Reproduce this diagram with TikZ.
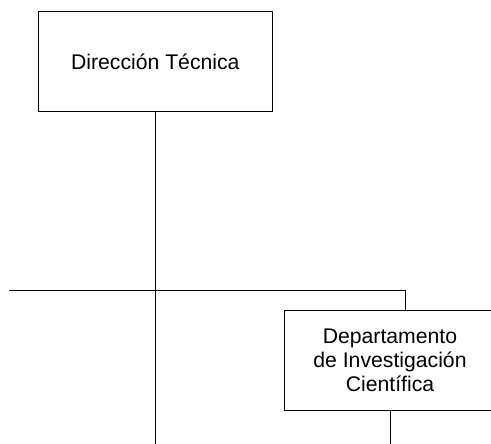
\documentclass[tikz,border=0pt]{standalone}
\usepackage{fontspec}
\setmainfont{Liberation Sans}
\usetikzlibrary{positioning}

\tikzset{caja/.style={draw, line width=1pt, align=center,
    font=\fontsize{21.2}{24}\selectfont}}

\begin{document}
\begin{tikzpicture}[x=1pt, y=-1pt, line width=1pt]
      \useasboundingbox (0,0) rectangle (491,444);
      \clip (0,0) rectangle (491,444);
      \node[caja, minimum width=234pt, minimum height=100pt] (dt) at (155.3,61.7) {Dirección Técnica};
      \node[caja, minimum width=211.4pt, minimum height=100pt] (dic) at (390,360) {Departamento\\de Investigación\\Científica};
      \coordinate (izq) at (9,290.7);
      \coordinate (esq) at (405.7,290.7);
      \coordinate (fin) at (dt.south |- 0,444);
      \coordinate (fin2) at (dic.south |- 0,444);
      \draw (dt.south) -- (fin);
      \draw (izq) -- (esq) -- (esq |- dic.north);
      \draw (dic.south) -- (fin2);
    \end{tikzpicture}
\end{document}
